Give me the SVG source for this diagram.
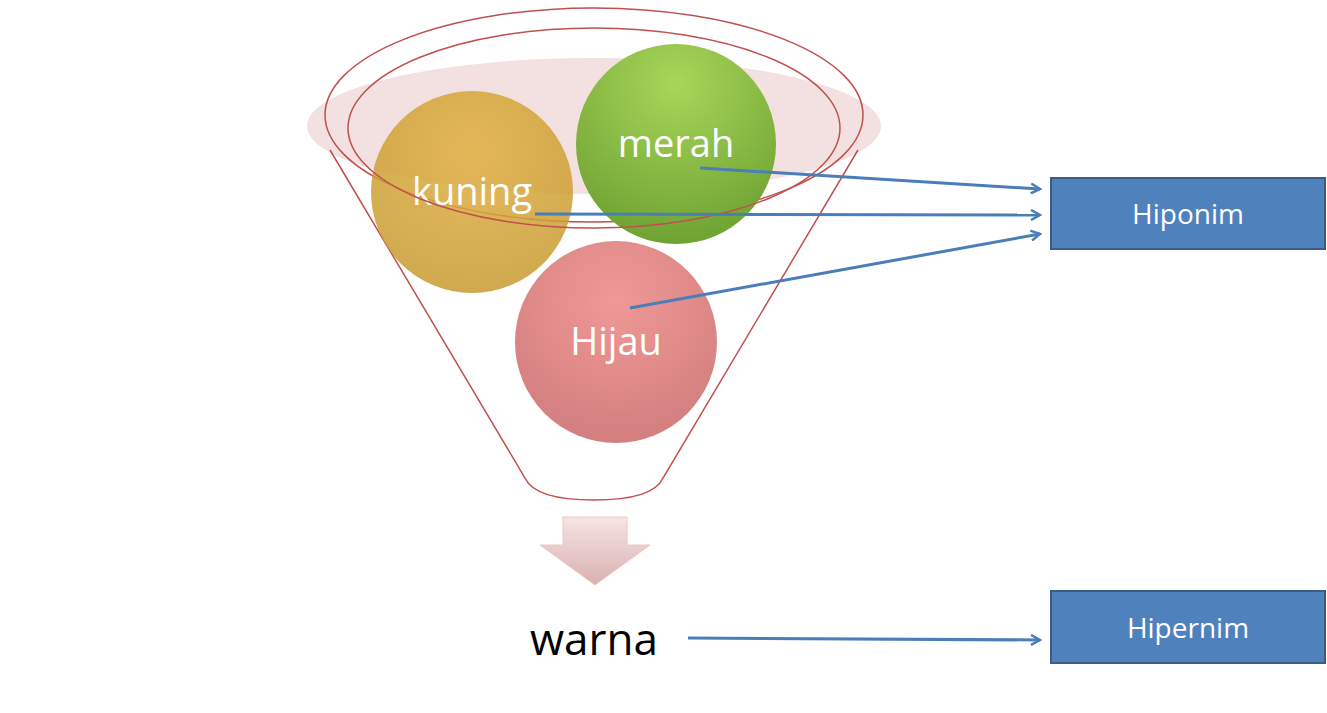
<svg xmlns="http://www.w3.org/2000/svg" width="1327" height="713" viewBox="0 0 1327 713">
<defs>
<style>
.lbl{font-family:"Open Sans","Liberation Sans",sans-serif;fill:#fff;text-anchor:middle}
.box{fill:#4f81bd;stroke:#385d8a;stroke-width:2}
.con{stroke:#4a7ebb;stroke-width:3;fill:none;marker-end:url(#ah)}
</style>
<marker id="ah" markerWidth="12" markerHeight="12" refX="10" refY="6" orient="auto" markerUnits="userSpaceOnUse"><path d="M1,1 L10,6 L1,11" fill="none" stroke="#4a7ebb" stroke-width="2.5"/></marker>
<radialGradient id="gk" cx="0.5" cy="0.3" r="0.7"><stop offset="0" stop-color="#e0b040"/><stop offset="1" stop-color="#c89a30"/></radialGradient>
<radialGradient id="gm" cx="0.5" cy="0.2" r="0.8"><stop offset="0" stop-color="#a8d65a"/><stop offset="1" stop-color="#6ea232"/></radialGradient>
<radialGradient id="gh" cx="0.5" cy="0.3" r="0.8"><stop offset="0" stop-color="#f09898"/><stop offset="1" stop-color="#cf7b7b"/></radialGradient>
<linearGradient id="ga" x1="0" y1="0" x2="0" y2="1"><stop offset="0" stop-color="#f8e4e4"/><stop offset="1" stop-color="#d8b0b0"/></linearGradient>
</defs>
<rect width="1327" height="713" fill="#fff"/>
<g id="funnel">
<ellipse cx="594" cy="126" rx="287" ry="68" fill="#f3e0e0"/>
<path d="M330,150 L525,478 Q535,500 594,500 Q653,500 663,478 L858,150" fill="none" stroke="#c0504d" stroke-width="1.5"/>
<ellipse cx="594" cy="115" rx="269" ry="107" fill="none" stroke="#c0504d" stroke-width="1.5"/>
</g>
<g id="kuning"><circle cx="472" cy="192" r="101" fill="url(#gk)" opacity="0.85"/><text class="lbl" x="472" y="205" font-size="38">kuning</text></g>
<g id="merah"><circle cx="676" cy="144" r="100" fill="url(#gm)"/><text class="lbl" x="676" y="157" font-size="38">merah</text></g>
<ellipse cx="594" cy="128" rx="246" ry="100" fill="none" stroke="#c0504d" stroke-width="1.5"/>
<g id="hijau"><circle cx="616" cy="342" r="101" fill="url(#gh)"/><text class="lbl" x="616" y="355" font-size="38">Hijau</text></g>
<g id="down"><path d="M563,517 H627 V545 H650 L595,585 L540,545 H563 Z" fill="url(#ga)" stroke="#e8c8c8"/></g>
<g id="warna"><text x="594" y="655" font-family="Open Sans, Liberation Sans, sans-serif" font-size="44" text-anchor="middle" fill="#000">warna</text></g>
<g id="hiponim"><rect class="box" x="1051" y="178" width="274" height="71"/><text class="lbl" x="1188" y="224" font-size="28">Hiponim</text></g>
<g id="hipernim"><rect class="box" x="1051" y="591" width="274" height="72"/><text class="lbl" x="1188" y="638" font-size="28">Hipernim</text></g>
<g id="connectors">
<path class="con" d="M700,168 L1040,189"/>
<path class="con" d="M535,214 L1040,215"/>
<path class="con" d="M630,308 L1040,234"/>
<path class="con" d="M688,638 L1040,640"/>
</g>
</svg>
